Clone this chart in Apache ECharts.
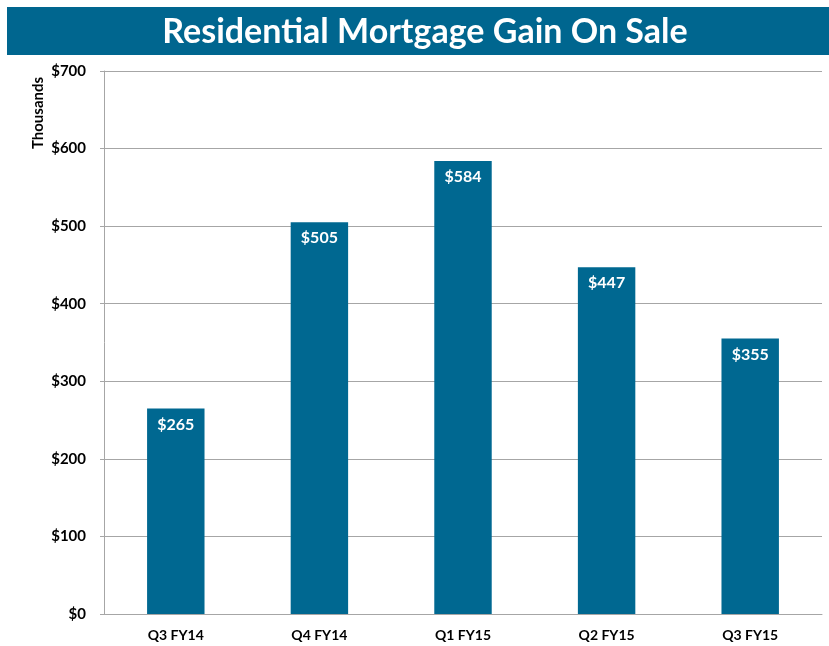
<!DOCTYPE html>
<html>
<head>
<meta charset="utf-8">
<script src="https://cdn.jsdelivr.net/npm/echarts@6/dist/echarts.min.js"></script>
<style>
  html, body { margin: 0; padding: 0; background: #fff; }
  #chart { width: 829px; height: 646px; }
</style>
</head>
<body>
<div id="chart"></div>
<script>
// data
var quarters = ['Q3 FY14', 'Q4 FY14', 'Q1 FY15', 'Q2 FY15', 'Q3 FY15'];
var gainOnSale = [265, 505, 584, 447, 355];

var font = 'Lato, "Open Sans", sans-serif';
var blue = '#006891';

var chart = echarts.init(document.getElementById('chart'));
chart.setOption({
    animation: false,
    textStyle: { fontFamily: font },
    graphic: [
        {
            type: 'rect',
            shape: { x: 7, y: 7, width: 822, height: 48 },
            style: { fill: '#00668f' }
        },
        {
            type: 'text',
            x: 425, y: 32,
            style: {
                text: 'Residential Mortgage Gain On Sale',
                fill: '#fff',
                font: 'bold 34px ' + font,
                align: 'center',
                verticalAlign: 'middle'
            }
        },
        {
            type: 'text',
            x: 38, y: 113,
            rotation: Math.PI / 2,
            style: {
                text: 'Thousands',
                fill: '#000',
                font: 'bold 15px ' + font,
                align: 'center',
                verticalAlign: 'middle'
            }
        }
    ],
    grid: { left: 104, right: 7, top: 71, bottom: 32 },
    xAxis: {
        type: 'category',
        data: quarters,
        axisLine: { lineStyle: { color: '#a6a6a6' } },
        axisTick: { length: 5, lineStyle: { color: '#a6a6a6' } },
        axisLabel: { color: '#000', fontWeight: 'bold', fontSize: 14, margin: 14 }
    },
    yAxis: {
        type: 'value',
        min: 0,
        max: 700,
        interval: 100,
        axisLine: { show: true, lineStyle: { color: '#a6a6a6' } },
        axisTick: { show: true, length: 4, lineStyle: { color: '#a6a6a6' } },
        splitLine: { lineStyle: { color: '#a6a6a6' } },
        axisLabel: {
            color: '#000', fontWeight: 'bold', fontSize: 15, margin: 18,
            formatter: function (v) { return '$' + v; }
        }
    },
    series: [
        {
            type: 'bar',
            data: gainOnSale,
            barWidth: '40%',
            itemStyle: { color: blue },
            label: {
                show: true,
                position: 'insideTop',
                distance: 8,
                color: '#fff',
                fontWeight: 'bold',
                fontSize: 16,
                formatter: function (p) { return '$' + p.value; }
            }
        }
    ]
});
</script>
</body>
</html>
